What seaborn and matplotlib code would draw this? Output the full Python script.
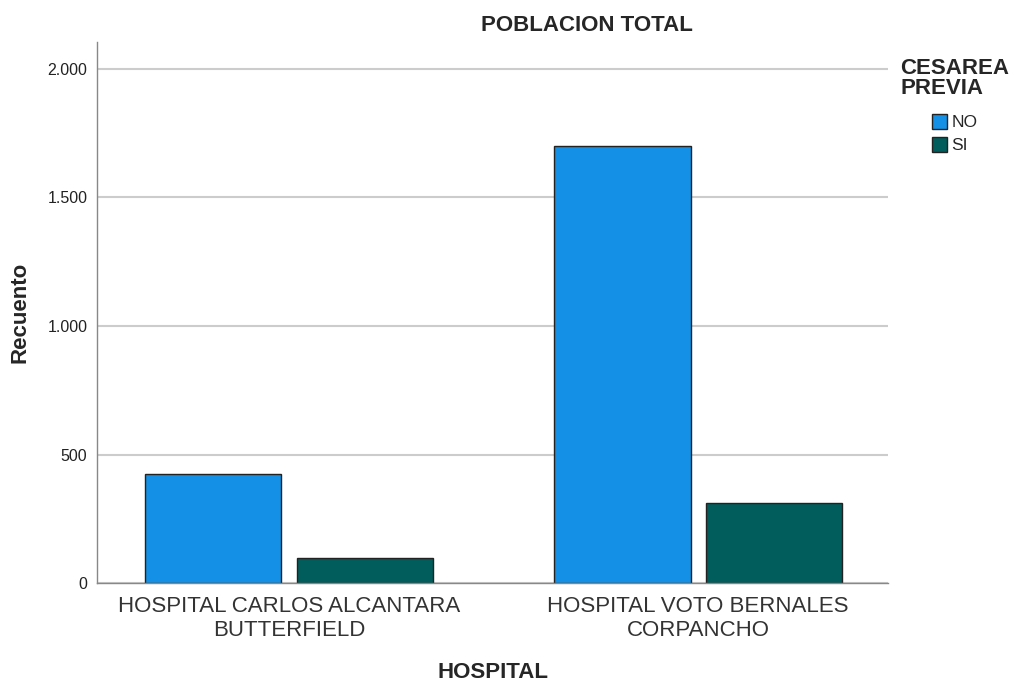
import seaborn as sns
import pandas as pd
import matplotlib.pyplot as plt
from matplotlib.ticker import FuncFormatter

hospitales = ["HOSPITAL CARLOS ALCANTARA\nBUTTERFIELD", "HOSPITAL VOTO BERNALES\nCORPANCHO"]
cesarea = ["NO", "SI"]
recuento_no = [424, 1700]
recuento_si = [97, 311]
colores = ["#1490E6", "#005D5B"]

df = pd.DataFrame({
    "HOSPITAL": hospitales * 2,
    "CESAREA PREVIA": ["NO"] * 2 + ["SI"] * 2,
    "Recuento": recuento_no + recuento_si,
})

sns.set_style("white")
plt.rcParams['font.family'] = ['Liberation Sans', 'DejaVu Sans']

fig = plt.figure(figsize=(10.14, 6.83), dpi=100)
ax = fig.add_axes([0.0957, 0.1464, 0.7801, 0.7921])

sns.barplot(data=df, x="HOSPITAL", y="Recuento", hue="CESAREA PREVIA",
            hue_order=cesarea, palette=colores, saturation=1, width=0.74, gap=0.1,
            edgecolor="#222222", linewidth=1, ax=ax)

ax.set_ylim(0, 2105)
ax.set_xlim(-0.469, 1.464)
ax.set_yticks([0, 500, 1000, 1500, 2000])
ax.yaxis.set_major_formatter(FuncFormatter(lambda v, p: f"{int(v):,}".replace(",", ".")))
ax.yaxis.grid(True, color="#cccccc", linewidth=1.5)
ax.set_axisbelow(True)
for s in ["top", "right"]:
    ax.spines[s].set_visible(False)
for s in ["left", "bottom"]:
    ax.spines[s].set_color("#888888")
    ax.spines[s].set_linewidth(1)
ax.tick_params(axis="y", labelsize=11.5, length=0, pad=7, colors="#222222")
ax.tick_params(axis="x", labelsize=16, length=0, pad=9, colors="#333333")
for t in ax.get_xticklabels():
    t.set_linespacing(1.2)

ax.set_xlabel("HOSPITAL", fontsize=16, fontweight="bold", va="center")
ax.set_ylabel("Recuento", fontsize=16, fontweight="bold", va="center")
ax.yaxis.set_label_coords(-0.097, 0.5)
ax.xaxis.set_label_coords(0.5, -0.166)
fig.text(0.579, 0.962, "POBLACION TOTAL", fontsize=16, fontweight="bold",
         ha="center", va="center")

leg = ax.legend(title="CESAREA\nPREVIA", loc="upper center", bbox_to_anchor=(1.084, 1.0),
                frameon=False, fontsize=12.5, title_fontproperties={"weight": "bold", "size": 16},
                handlelength=0.9, handleheight=0.9, handletextpad=0.25, labelspacing=0.4)
leg._legend_box.align = "center"
leg._legend_box.sep = 11
leg.get_title().set_linespacing(0.95)

fig.savefig("out.png", dpi=100)
